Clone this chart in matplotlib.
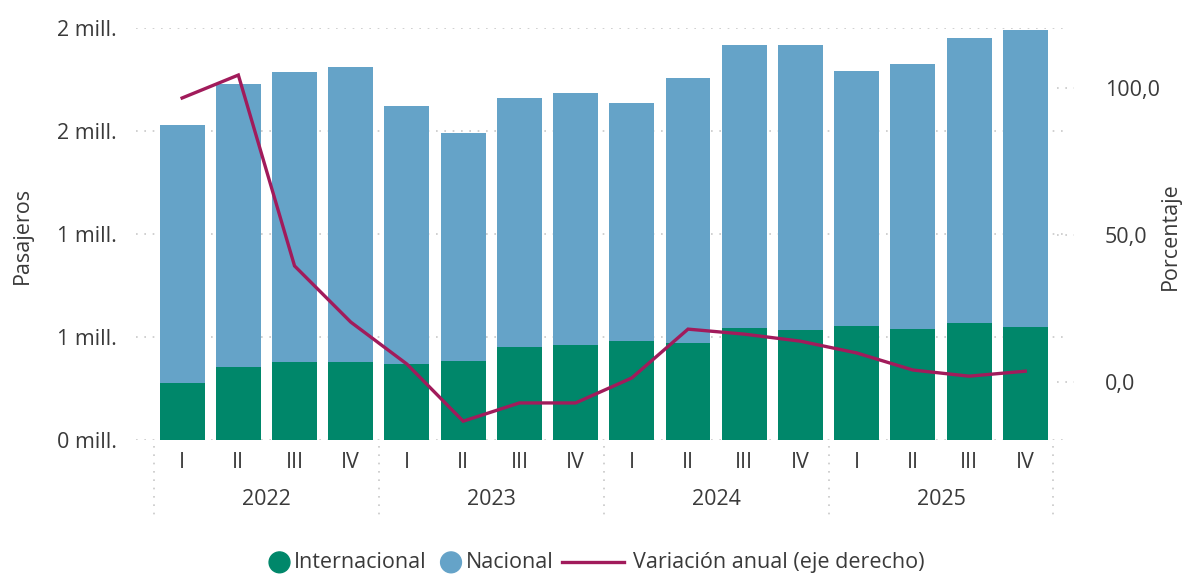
import numpy as np
import matplotlib.pyplot as plt
from matplotlib.lines import Line2D
from matplotlib.patches import Circle
from matplotlib.offsetbox import DrawingArea, TextArea, HPacker, AnchoredOffsetbox
import matplotlib.transforms as mtransforms

plt.rcParams['font.family'] = ['Open Sans', 'DejaVu Sans']

# data
years = ['2022', '2023', '2024', '2025']
quarters = ['I', 'II', 'III', 'IV'] * 4
internacional = [0.277, 0.354, 0.379, 0.379, 0.369, 0.383, 0.451, 0.461,
                 0.481, 0.471, 0.544, 0.534, 0.553, 0.539, 0.568, 0.549]  # millions
total = [1.529, 1.728, 1.786, 1.811, 1.621, 1.490, 1.660, 1.684,
         1.636, 1.757, 1.917, 1.917, 1.791, 1.825, 1.951, 1.990]
nacional = [t - i for t, i in zip(total, internacional)]
variacion = [96.6, 104.4, 39.5, 20.4, 6.1, -13.3, -7.1, -7.1,
             1.4, 18.0, 16.3, 13.9, 9.9, 4.1, 2.0, 3.7]
left_ticks = [0, 0.5, 1.0, 1.5, 2.0]
left_labels = ['0 mill.', '1 mill.', '1 mill.', '2 mill.', '2 mill.']
right_ticks = [0, 50, 100]
right_labels = ['0,0', '50,0', '100,0']

c_int = '#00876a'
c_nac = '#65a3c8'
c_line = '#a11b5b'
c_text = '#3a3a3a'
c_grid = '#c8c8c8'
fs = 15.5

x = np.arange(len(quarters))

fig = plt.figure(figsize=(11.86, 5.75), dpi=100)
ax = fig.add_axes([0.1147, 0.2348, 0.7858, 0.7165])
ax2 = ax.twinx()

ax.bar(x, internacional, width=0.8, color=c_int, zorder=2)
ax.bar(x, nacional, width=0.8, bottom=internacional, color=c_nac, zorder=2)
ax2.plot(x, variacion, color=c_line, linewidth=2.4, solid_joinstyle='miter')

ax.set_xlim(-0.82, 15.76)
ax.set_ylim(0, 2.0)
ax2.set_ylim(-19.7, 120.4)

# left gridlines
for t in left_ticks:
    ax.axhline(t, color=c_grid, linestyle=(0, (1, 4)), linewidth=1.2, zorder=0)

# right short dotted marks
trans2 = mtransforms.blended_transform_factory(ax2.transAxes, ax2.transData)
for t in right_ticks:
    ax2.plot([0.988, 1.006], [t, t], transform=trans2, color=c_grid,
             linestyle=(0, (1, 4)), linewidth=1.2, clip_on=False)

ax.set_yticks(left_ticks)
ax.set_yticklabels(left_labels)
ax2.set_yticks(right_ticks)
ax2.set_yticklabels(right_labels)
ax.set_xticks(x)
ax.set_xticklabels(quarters)

ax.tick_params(axis='y', length=0, pad=14, labelsize=fs, labelcolor=c_text)
ax2.tick_params(axis='y', length=0, pad=26.5, labelsize=fs, labelcolor=c_text)
ax.tick_params(axis='x', length=0, pad=9, labelsize=fs, labelcolor=c_text)

for a in (ax, ax2):
    for s in a.spines.values():
        s.set_visible(False)

# year labels and separators
transx = mtransforms.blended_transform_factory(ax.transData, ax.transAxes)
for k, yr in enumerate(years):
    ax.text(4 * k + 1.5, -0.145, yr, transform=transx, ha='center', va='center',
            fontsize=fs, color=c_text)
for b in [-0.5, 3.5, 7.5, 11.5, 15.5]:
    ax.plot([b, b], [-0.015, -0.19], transform=transx, color=c_grid,
            linestyle=(0, (1, 4)), linewidth=1.2, clip_on=False)

fig.text(0.019, 0.59, 'Pasajeros', rotation=90, ha='center', va='center',
         fontsize=fs, color=c_text)
fig.text(0.987, 0.59, 'Porcentaje', rotation=90, ha='center', va='center',
         fontsize=fs, color=c_text)


# legend built from offset boxes so the spacing can differ per item
def dot_box(color, lead):
    da = DrawingArea(lead + 15, 15, 0, 0)
    da.add_artist(Circle((lead + 7.5, 7.5), 7.5, color=color))
    return da


def line_box(color):
    da = DrawingArea(51, 15, 0, 0)
    da.add_artist(Line2D([3, 48], [7.5, 7.5], color=color, linewidth=2.4))
    return da


def label_box(s):
    return TextArea(s, textprops=dict(fontsize=fs, color=c_text))


labels = ['Internacional', 'Nacional', 'Variación anual (eje derecho)']
pack = HPacker(children=[dot_box(c_int, 0), label_box(labels[0]),
                         dot_box(c_nac, 7), label_box(labels[1]),
                         line_box(c_line), label_box(labels[2])],
               sep=3, pad=0, align='center')
leg = AnchoredOffsetbox(loc='center', child=pack, pad=0, borderpad=0,
                        frameon=False, bbox_to_anchor=(0.503, 0.022),
                        bbox_transform=fig.transFigure)
fig.add_artist(leg)

fig.savefig('out.png', dpi=100)
